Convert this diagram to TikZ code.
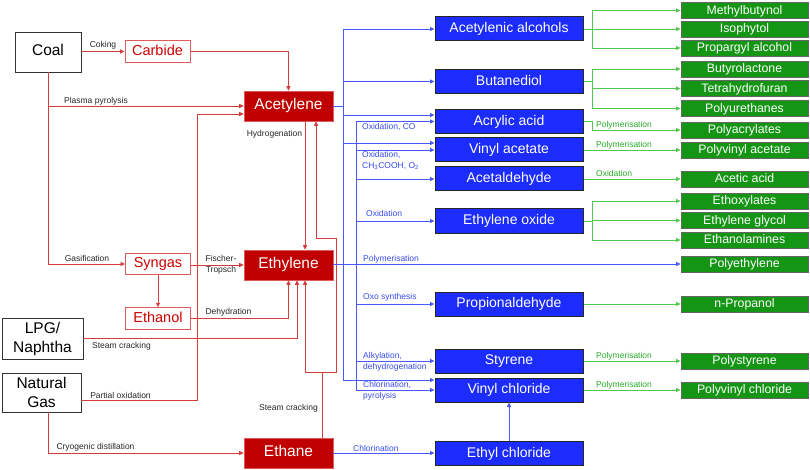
\documentclass[tikz,border=0pt]{standalone}
\usepackage{fontspec}
\setmainfont{Liberation Sans}
\usetikzlibrary{arrows.meta}
\definecolor{redF}{RGB}{192,0,0}
\definecolor{redB}{RGB}{224,90,90}
\definecolor{redT}{RGB}{204,0,0}
\definecolor{redL}{RGB}{214,60,60}
\definecolor{blueF}{RGB}{28,44,252}
\definecolor{blueL}{RGB}{70,90,255}
\definecolor{blueT}{RGB}{55,75,240}
\definecolor{greenF}{RGB}{20,150,20}
\definecolor{greenL}{RGB}{80,200,80}
\definecolor{greenT}{RGB}{40,170,40}
\begin{document}
\begin{tikzpicture}[x=1pt,y=-1pt,
  box/.style={rectangle, inner sep=0pt, anchor=center},
  oneline/.style={text height=0.72em, text depth=0pt},
  src/.style={box, draw=black!80, line width=0.9pt, fill=white, align=center, font=\fontsize{15.5}{19}\selectfont},
  rbox/.style={box, oneline, draw=redB, line width=1pt, fill=white, text=redT, font=\fontsize{14.5}{16}\selectfont, minimum width=65pt, minimum height=21.5pt},
  rfill/.style={box, oneline, draw=redB, line width=0.6pt, fill=redF, text=white, font=\fontsize{15.5}{17}\selectfont, minimum width=89pt, minimum height=30pt},
  bbox/.style={box, oneline, draw=black!85, line width=1pt, fill=blueF, text=white, font=\fontsize{14}{16}\selectfont, minimum width=148pt, minimum height=24pt},
  gbox/.style={box, oneline, draw=black!60, line width=0.8pt, fill=greenF, text=white, font=\fontsize{12.3}{14}\selectfont, minimum width=127pt, minimum height=16pt},
  rl/.style={draw=redL, line width=0.9pt},
  bl/.style={draw=blueL, line width=0.9pt},
  gl/.style={draw=greenL, line width=0.9pt},
  arr/.style={-{Triangle[length=4.5pt,width=4pt]}},
  lbl/.style={font=\fontsize{8.5}{11}\selectfont, text=black!85, inner sep=0pt},
  blbl/.style={lbl, text=blueT, align=left, anchor=west},
  glbl/.style={lbl, text=greenT, anchor=west}
]
\useasboundingbox (0,0) rectangle (810,470);

% ---------- source and red nodes ----------
\node[src, oneline, minimum width=66pt, minimum height=40pt] (coal) at (48,52) {Coal};
\node[src, minimum width=81pt, minimum height=41pt] (lpg) at (42.5,338.5) {LPG/\\Naphtha};
\node[src, minimum width=79pt, minimum height=39pt] (ngas) at (41.5,392.5) {Natural\\Gas};
\node[rbox] (carbide) at (157.5,51.5) {Carbide};
\node[rbox] (syngas) at (158,264) {Syngas};
\node[rbox] (ethanol) at (158,318.5) {Ethanol};
\node[rfill] (acet) at (288.5,106) {Acetylene};
\node[rfill] (ethylene) at (288.5,265) {Ethylene};
\node[rfill] (ethane) at (288.5,453) {Ethane};

% ---------- blue nodes ----------
\node[bbox] (aa) at (509,29) {Acetylenic alcohols};
\node[bbox] (bd) at (509,81.5) {Butanediol};
\node[bbox] (aca) at (509,121.5) {Acrylic acid};
\node[bbox] (va) at (509,150) {Vinyl acetate};
\node[bbox] (ad) at (509,179) {Acetaldehyde};
\node[bbox] (eo) at (509,221) {Ethylene oxide};
\node[bbox] (pr) at (509,304) {Propionaldehyde};
\node[bbox] (st) at (509,361) {Styrene};
\node[bbox] (vc) at (509,390) {Vinyl chloride};
\node[bbox] (ec) at (509,453.5) {Ethyl chloride};

% ---------- green nodes ----------
\node[gbox] (g1) at (744.5,10.5) {Methylbutynol};
\node[gbox] (g2) at (744.5,29) {Isophytol};
\node[gbox] (g3) at (744.5,48) {Propargyl alcohol};
\node[gbox] (g4) at (744.5,69) {Butyrolactone};
\node[gbox] (g5) at (744.5,88.5) {Tetrahydrofuran};
\node[gbox] (g6) at (744.5,108.5) {Polyurethanes};
\node[gbox] (g7) at (744.5,130) {Polyacrylates};
\node[gbox] (g8) at (744.5,150) {Polyvinyl acetate};
\node[gbox] (g9) at (744.5,179) {Acetic acid};
\node[gbox] (g10) at (744.5,201) {Ethoxylates};
\node[gbox] (g11) at (744.5,220.5) {Ethylene glycol};
\node[gbox] (g12) at (744.5,240) {Ethanolamines};
\node[gbox] (g13) at (744.5,264) {Polyethylene};
\node[gbox] (g14) at (744.5,304) {n-Propanol};
\node[gbox] (g15) at (744.5,361) {Polystyrene};
\node[gbox] (g16) at (744.5,390) {Polyvinyl chloride};

% ---------- helper coordinates ----------
\coordinate (poA) at (197,400);
\coordinate (poB) at (197,114);
\coordinate (sc1) at (322,372.5);
\coordinate (sc2) at (336,238);
\coordinate (bA) at (343,29);
\coordinate (bB) at (343,380);
\coordinate (cA) at (356,121.5);
\coordinate (cB) at (356,390);
\coordinate (gx) at (592,0);

% ---------- red connectors ----------
\draw[rl,arr] (coal.east |- carbide.west) -- (carbide.west);
\draw[rl,arr] (carbide.east) -| (acet.north);
\draw[rl,arr] (coal.south) |- (syngas.west);
\draw[rl,arr] (coal.south |- acet.west) -- (acet.west);
\draw[rl,arr] ([yshift=-7.5pt]ngas.east) -- (poA) -- (poB) -- ([yshift=-8pt]acet.west);
\draw[rl,arr] ([xshift=16.5pt]acet.south) -- ([xshift=16.5pt]ethylene.north);
\draw[rl] ([xshift=33.5pt]ethane.north) -- (sc1);
\draw[rl,arr] (sc1) -| ([xshift=16.5pt]ethylene.south);
\draw[rl,arr] (sc1) -| (sc2) -| ([xshift=27.5pt]acet.south);
\draw[rl,arr] (syngas.east |- ethylene.west) -- (ethylene.west);
\draw[rl,arr] (syngas.south) -- (syngas.south |- ethanol.north);
\draw[rl,arr] (ethanol.east) -| (ethylene.south);
\draw[rl,arr] (lpg.east) -| ([xshift=8.5pt]ethylene.south);
\draw[rl,arr] ([xshift=6.5pt]ngas.south) |- (ethane.west);

% ---------- red-side labels ----------
\node[lbl] (lcok) at (103,45) {Coking};
\node[lbl] (lpla) at (96,101) {Plasma pyrolysis};
\node[lbl] (lhyd) at (274.5,134) {Hydrogenation};
\node[lbl] (lgas) at (87,258) {Gasification};
\node[lbl, align=center] (lft) at (221,264.5) {Fischer-\\Tropsch};
\node[lbl] (ldeh) at (228.5,312) {Dehydration};
\node[lbl] (lsc1) at (121.5,346) {Steam cracking};
\node[lbl] (lpox) at (120.5,395) {Partial oxidation};
\node[lbl] (lsc2) at (288.5,408) {Steam cracking};
\node[lbl] (lcry) at (95.5,447) {Cryogenic distillation};

% ---------- blue connectors ----------
\draw[bl] (acet.east) -- (acet.east -| bA);
\draw[bl] (bA) -- (bB);
\draw[bl,arr] (bA) -- (aa.west);
\draw[bl,arr] (bA |- bd.west) -- (bd.west);
\draw[bl,arr] (bA |- aca.west) ++(0,-6.5) -- ([yshift=6.5pt]aca.west);
\draw[bl,arr] (bA |- va.west) ++(0,-7) -- ([yshift=7pt]va.west);
\draw[bl,arr] (bB) -- ([yshift=10pt]vc.west);
\draw[bl] (cA) -- (cB);
\draw[bl,arr] (cA) -- (aca.west);
\draw[bl,arr] (cA |- va.west) -- (va.west);
\draw[bl,arr] (cA |- ad.west) -- (ad.west);
\draw[bl,arr] (cA |- eo.west) -- (eo.west);
\draw[bl,arr] (cA |- pr.west) -- (pr.west);
\draw[bl,arr] (cA |- st.west) -- (st.west);
\draw[bl,arr] (cB) -- (vc.west);
\draw[bl,arr] (ethylene.east |- g13.west) -- (g13.west);
\draw[bl,arr] (ethane.east) -- (ethane.east -| ec.west);
\draw[bl,arr] (ec.north) -- (vc.south);

% ---------- blue labels ----------
\node[blbl] (lb1) at (362,127) {Oxidation, CO};
\node[blbl] (lb2) at (362,160.5) {Oxidation,\\CH\textsubscript{3}COOH, O\textsubscript{2}};
\node[blbl] (lb3) at (366,213) {Oxidation};
\node[blbl] (lb4) at (363,259) {Polymerisation};
\node[blbl] (lb5) at (363,297) {Oxo synthesis};
\node[blbl] (lb6) at (363,361.5) {Alkylation,\\dehydrogenation};
\node[blbl] (lb7) at (363,390.5) {Chlorination,\\pyrolysis};
\node[blbl] (lb8) at (353,448) {Chlorination};

% ---------- green connectors ----------
\draw[gl,arr] (aa.east) -- (g2.west);
\draw[gl] (g1.west -| gx) -- (g3.west -| gx);
\draw[gl,arr] (g1.west -| gx) -- (g1.west);
\draw[gl,arr] (g3.west -| gx) -- (g3.west);
\draw[gl] (bd.east) -- (bd.east -| gx);
\draw[gl] (g4.west -| gx) -- (g6.west -| gx);
\draw[gl,arr] (g4.west -| gx) -- (g4.west);
\draw[gl,arr] (g5.west -| gx) -- (g5.west);
\draw[gl,arr] (g6.west -| gx) -- (g6.west);
\draw[gl,arr] (aca.east) -- (aca.east -| gx) -- (g7.west -| gx) -- (g7.west);
\draw[gl,arr] (va.east) -- (g8.west);
\draw[gl,arr] (ad.east) -- (g9.west);
\draw[gl] (eo.east) -- (eo.east -| gx);
\draw[gl] (g10.west -| gx) -- (g12.west -| gx);
\draw[gl,arr] (g10.west -| gx) -- (g10.west);
\draw[gl,arr] (g11.west -| gx) -- (g11.west);
\draw[gl,arr] (g12.west -| gx) -- (g12.west);
\draw[gl,arr] (pr.east) -- (g14.west);
\draw[gl,arr] (st.east) -- (g15.west);
\draw[gl,arr] (vc.east) -- (g16.west);

% ---------- green labels ----------
\node[glbl] (lg1) at (596,125) {Polymerisation};
\node[glbl] (lg2) at (596,145) {Polymerisation};
\node[glbl] (lg3) at (596,173) {Oxidation};
\node[glbl] (lg4) at (596,356) {Polymerisation};
\node[glbl] (lg5) at (596,385) {Polymerisation};
\end{tikzpicture}
\end{document}
